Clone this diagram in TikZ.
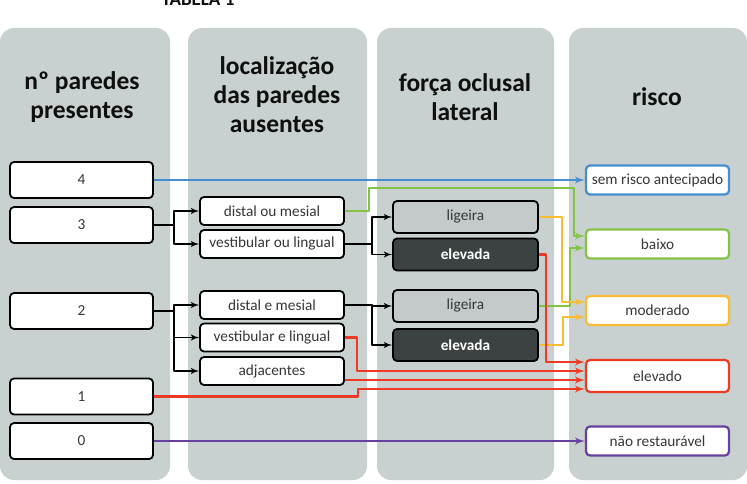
\documentclass[tikz,border=0pt]{standalone}
\usepackage{fontspec}
\setmainfont{Carlito}
\usetikzlibrary{arrows, positioning}

\definecolor{fundo}{RGB}{201,208,208}
\definecolor{cinza}{RGB}{196,202,202}
\definecolor{escuro}{RGB}{60,66,66}
\definecolor{texto}{RGB}{55,55,55}
\definecolor{preto}{RGB}{15,15,15}
\definecolor{azul}{RGB}{70,140,210}
\definecolor{verde}{RGB}{130,196,70}
\definecolor{amarelo}{RGB}{250,188,50}
\definecolor{vermelho}{RGB}{238,58,36}
\definecolor{roxo}{RGB}{104,64,160}

\begin{document}
\begin{tikzpicture}[x=1pt, y=-1pt, >=latex', line join=round]
    % Stili
    \tikzstyle{painel} = [fill=fundo, rounded corners=14pt]
    \tikzstyle{titulo} = [align=center, text=preto, font=\fontsize{25.5}{29}\selectfont\bfseries]
    \tikzstyle{caixa} = [draw, line width=1.8pt, rounded corners=4pt, fill=white, text=texto, inner sep=0pt, minimum width=143pt, minimum height=36pt, font=\fontsize{15.3}{18}\selectfont]
    \tikzstyle{local} = [caixa, minimum width=144pt, minimum height=28pt]
    \tikzstyle{ligeira} = [caixa, fill=cinza, minimum width=145pt, minimum height=32pt]
    \tikzstyle{elevada} = [ligeira, fill=escuro, text=white, font=\fontsize{15.3}{18}\selectfont\bfseries]
    \tikzstyle{risco} = [caixa, line width=2.2pt, minimum height=29pt]
    \tikzstyle{seta} = [->, line width=1.8pt]
    \tikzstyle{cor} = [->, line width=2.4pt]

    \useasboundingbox (0,0) rectangle (747,484);

    % Pannelli
    \fill[painel] (0,28) rectangle (170,480);
    \fill[painel] (188,28) rectangle (367,480);
    \fill[painel] (377,28) rectangle (554,480);
    \fill[painel] (569,28) rectangle (747,480);

    \node[anchor=base, text=preto, font=\fontsize{19}{22}\selectfont\bfseries] (tab) at (198,6) {TABELA 1};

    \node[titulo] (t1) at (82,97) {nº paredes\\presentes};
    \node[titulo] (t2) at (277,95) {localização\\das paredes\\ausentes};
    \node[titulo] (t3) at (465,97) {força oclusal\\lateral};
    \node[titulo] (t4) at (657,97) {risco};

    % Nodi
    \node[caixa] (n4) at (81.5,180) {4};
    \node[caixa] (n3) at (81.5,225) {3};
    \node[caixa] (n2) at (81.5,311) {2};
    \node[caixa] (n1) at (81.5,396.5) {1};
    \node[caixa] (n0) at (81.5,441) {0};

    \node[local] (dm) at (272,211) {distal ou mesial};
    \node[local] (vl) at (272,244) {vestibular ou lingual};
    \node[local] (dem) at (272,305) {distal e mesial};
    \node[local] (vel) at (272,337.5) {vestibular e lingual};
    \node[local] (adj) at (272,371) {adjacentes};

    \node[ligeira] (lig1) at (465.5,217) {ligeira};
    \node[elevada] (ele1) at (465.5,254.5) {elevada};
    \node[ligeira] (lig2) at (465.5,306) {ligeira};
    \node[elevada] (ele2) at (465.5,345) {elevada};

    \node[risco, draw=azul] (sem) at (657.5,180) {sem risco antecipado};
    \node[risco, draw=verde] (bai) at (657.5,244) {baixo};
    \node[risco, draw=amarelo] (mod) at (657.5,310.5) {moderado};
    \node[risco, draw=vermelho, minimum height=32pt] (elv) at (657.5,376) {elevado};
    \node[risco, draw=roxo] (nao) at (657.5,441) {não restaurável};

    % Collegamenti
    \draw[cor, azul] (n4) -- (sem);
    \draw[cor, roxo] (n0) -- (nao);

    \draw[seta] (n3.east) -- ++(20,0) |- (dm.west);
    \draw[seta] (n3.east) -- ++(20,0) |- (vl.west);
    \draw[seta] (n2.east) -- ++(20,0) |- (dem.west);
    \draw[seta] (n2.east) -- ++(20,0) |- (vel.west);
    \draw[seta] (n2.east) -- ++(20,0) |- (adj.west);
    \draw[seta] (vl.east) -- ++(27,0) |- (lig1.west);
    \draw[seta] (vl.east) -- ++(27,0) |- (ele1.west);
    \draw[seta] (dem.east) -- ++(27,0) |- (lig2.west);
    \draw[seta] (dem.east) -- ++(27,0) |- (ele2.west);

    \draw[cor, verde] (dm.east) -- ++(24,0) |- (574,188) |- ([yshift=8pt]bai.west);
    \draw[cor, verde] (lig2.east) -- ++(31,0) |- ([yshift=-4pt]bai.west);

    \draw[cor, amarelo] (lig1.east) -- ++(23,0) |- ([yshift=8.5pt]mod.west);
    \draw[cor, amarelo] (ele2.east) -- ++(24,0) |- ([yshift=-6.5pt]mod.west);

    \draw[cor, vermelho] (ele1.east) -- ++(7,0) |- ([yshift=14pt]elv.west);
    \draw[cor, vermelho] (vel.east) -- ++(12,0) |- ([yshift=5pt]elv.west);
    \draw[cor, vermelho] ([yshift=-9pt]adj.east) -- ([yshift=-4pt]elv.west);
    \draw[cor, vermelho] (n1.east) -- ++(204,0) |- ([yshift=-13pt]elv.west);

\end{tikzpicture}
\end{document}
